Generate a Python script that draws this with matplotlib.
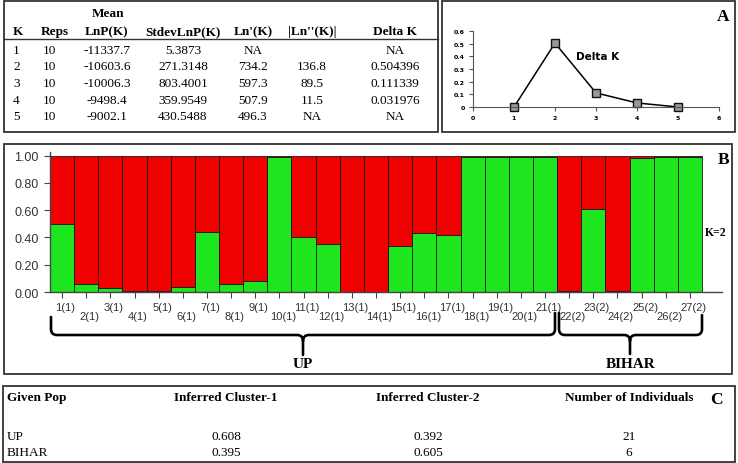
import matplotlib
matplotlib.use('Agg')
import matplotlib.pyplot as plt
from matplotlib.path import Path
from matplotlib.patches import PathPatch, Rectangle
from matplotlib.transforms import ScaledTranslation

W, H = 738, 464

# panel A - table of Evanno values
k_vals = ['1', '2', '3', '4', '5']
reps = ['10', '10', '10', '10', '10']
mean_lnp = ['-11337.7', '-10603.6', '-10006.3', '-9498.4', '-9002.1']
stdev_lnp = ['5.3873', '271.3148', '803.4001', '359.9549', '430.5488']
ln1_k = ['NA', '734.2', '597.3', '507.9', '496.3']
ln2_k = ['', '136.8', '89.5', '11.5', 'NA']
delta_k = ['NA', '0.504396', '0.111339', '0.031976', 'NA']

# panel B - membership of each individual (green = cluster 2)
ind_labels = ['1(1)', '2(1)', '3(1)', '4(1)', '5(1)', '6(1)', '7(1)', '8(1)', '9(1)',
              '10(1)', '11(1)', '12(1)', '13(1)', '14(1)', '15(1)', '16(1)', '17(1)',
              '18(1)', '19(1)', '20(1)', '21(1)', '22(2)', '23(2)', '24(2)', '25(2)',
              '26(2)', '27(2)']
green_q = [0.50, 0.06, 0.03, 0.005, 0.005, 0.04, 0.44, 0.06, 0.08, 0.99, 0.40, 0.35,
           0.003, 0.003, 0.34, 0.43, 0.42, 0.99, 0.99, 0.99, 0.99, 0.01, 0.61, 0.01,
           0.98, 0.99, 0.99]

# panel C
given_pop = ['UP', 'BIHAR']
cluster1 = ['0.608', '0.395']
cluster2 = ['0.392', '0.605']
n_ind = ['21', '6']

SERIF = 'Liberation Serif'
SANS = 'Liberation Sans'


def box(x0, y0, x1, y1):
    return [x0 / W, 1 - y1 / H, (x1 - x0) / W, (y1 - y0) / H]


fig = plt.figure(figsize=(W / 100, H / 100), dpi=100)
ov = fig.add_axes([0, 0, 1, 1])
ov.set_xlim(0, W)
ov.set_ylim(H, 0)
ov.axis('off')
ov.set_zorder(10)

# frames
for (x0, y0, x1, y1) in [(4, 2, 438, 133), (442, 2, 735, 133), (4, 145, 732, 375), (3, 387, 735, 463)]:
    ov.add_patch(Rectangle((x0, y0), x1 - x0, y1 - y0, fill=False, ec='#333333', lw=1.3))

# ---- table A
hdr = dict(fontfamily=SERIF, fontweight='bold', fontsize=9.5, va='center')
cell = dict(fontfamily=SERIF, fontsize=9.5, va='center')
ov.text(108, 14, 'Mean', ha='center', **hdr)
ov.text(13, 32, 'K', ha='left', **hdr)
ov.text(41, 32, 'Reps', ha='left', **hdr)
col_x = [107, 183, 253, 312, 395]
for cx, t in zip(col_x, ['LnP(K)', 'StdevLnP(K)', "Ln'(K)", "|Ln''(K)|", 'Delta K']):
    ov.text(cx, 32, t, ha='center', **hdr)
ov.plot([4, 438], [40, 40], color='#333333', lw=1)
row_y = [51, 67.5, 84, 100.5, 117]
for i, ry in enumerate(row_y):
    ov.text(13, ry, k_vals[i], ha='left', **cell)
    ov.text(43, ry, reps[i], ha='left', **cell)
    for cx, col in zip(col_x, [mean_lnp, stdev_lnp, ln1_k, ln2_k, delta_k]):
        ov.text(cx, ry, col[i], ha='center', **cell)

# ---- delta K plot
axd = fig.add_axes(box(473, 32, 719, 108))
axd.patch.set_visible(False)
dk = [float(v) if v != 'NA' else 0 for v in delta_k]
axd.plot([int(k) for k in k_vals], dk, color='black', lw=1.1, marker='s', ms=5.5,
         mfc='#999999', mec='#111111', mew=1, clip_on=False)
axd.set_xlim(0, 6)
axd.set_ylim(0, 0.6)
axd.set_xticks(range(7))
axd.set_yticks([0, 0.1, 0.2, 0.3, 0.4, 0.5, 0.6])
axd.set_yticklabels(['0', '0.1', '0.2', '0.3', '0.4', '0.5', '0.6'])
for s in ['top', 'right']:
    axd.spines[s].set_visible(False)
for s in ['left', 'bottom']:
    axd.spines[s].set_color('#555555')
axd.tick_params(length=3, width=0.8, color='#555555', pad=3)
for lbl in axd.get_xticklabels() + axd.get_yticklabels():
    lbl.set_fontfamily('DejaVu Sans')
    lbl.set_fontweight('bold')
    lbl.set_fontsize(4.5)
axd.text(2.5, 0.4, 'Delta K', fontfamily='DejaVu Sans', fontweight='bold', fontsize=7.5,
         va='center', ha='left')
ov.text(723, 17, 'A', fontfamily=SERIF, fontweight='bold', fontsize=12.5, ha='center', va='center')

# ---- structure bar plot
bw = (702 - 50) / 27.0
axb = fig.add_axes(box(50, 153, 722, 293))
axb.patch.set_visible(False)
n = len(green_q)
red_q = [1 - g for g in green_q]
xs = list(range(n))
axb.bar(xs, green_q, width=1.0, color='#1ee61e', edgecolor='#1a1a1a', lw=0.6, align='center')
axb.bar(xs, red_q, bottom=green_q, width=1.0, color='#f00000', edgecolor='#1a1a1a', lw=0.6,
        align='center')
axb.set_xlim(-0.5, -0.5 + (722 - 50) / bw)
axb.set_ylim(0, (293 - 153) / (293 - 156.7))
axb.set_yticks([0, 0.2, 0.4, 0.6, 0.8, 1.0])
axb.set_yticklabels(['0.00', '0.20', '0.40', '0.60', '0.80', '1.00'], fontfamily=SANS,
                    fontsize=9, color='#333333')
axb.set_xticks(xs)
axb.set_xticklabels([l if i % 2 == 0 else '\n' + l for i, l in enumerate(ind_labels)],
                    fontfamily=SANS, fontsize=8, color='#333333', linespacing=0.95)
for s in ['top', 'right']:
    axb.spines[s].set_visible(False)
for s in ['left', 'bottom']:
    axb.spines[s].set_color('#444444')
    axb.spines[s].set_linewidth(1)
axb.tick_params(axis='y', length=4, width=0.8, color='#444444', pad=4)
axb.tick_params(axis='x', length=4, width=0.8, color='#444444', pad=3)
shift = ScaledTranslation(0.035, 0, fig.dpi_scale_trans)
for lbl in axb.get_xticklabels():
    lbl.set_transform(lbl.get_transform() + shift)
ov.text(724, 160, 'B', fontfamily=SERIF, fontweight='bold', fontsize=12.5, ha='center', va='center')
ov.text(716, 233, 'K=2', fontfamily=SERIF, fontweight='bold', fontsize=8.5, ha='center', va='center')


def brace(x0, x1, ytop0, ytop1, ybar, ytip, xm):
    r = 6
    verts = [(x0, ytop0), (x0, ybar - r), (x0, ybar), (x0 + r, ybar),
             (xm - r, ybar), (xm, ybar), (xm, ybar + r), (xm, ytip),
             (xm, ybar + r), (xm, ybar), (xm + r, ybar),
             (x1 - r, ybar), (x1, ybar), (x1, ybar - r), (x1, ytop1)]
    codes = [Path.MOVETO, Path.LINETO, Path.CURVE3, Path.CURVE3,
             Path.LINETO, Path.CURVE3, Path.CURVE3, Path.LINETO,
             Path.MOVETO, Path.CURVE3, Path.CURVE3,
             Path.LINETO, Path.CURVE3, Path.CURVE3, Path.LINETO]
    ov.add_patch(PathPatch(Path(verts, codes), fill=False, lw=1.9, ec='black',
                           capstyle='round', joinstyle='round'))


brace(51, 555, 318, 314, 336, 356, 303)
brace(559, 702, 314, 316, 336, 355, 630)
ov.text(303, 365, 'UP', fontfamily=SERIF, fontweight='bold', fontsize=11, ha='center', va='center')
ov.text(631, 365, 'BIHAR', fontfamily=SERIF, fontweight='bold', fontsize=11, ha='center', va='center')

# ---- table C
ov.text(7, 398, 'Given Pop', ha='left', **hdr)
c_x = [226, 428, 629]
for cx, t in zip(c_x, ['Inferred Cluster-1', 'Inferred Cluster-2', 'Number of Individuals']):
    ov.text(cx, 398, t, ha='center', **hdr)
ov.text(716, 400, 'C', fontfamily=SERIF, fontweight='bold', fontsize=12.5, ha='center', va='center')
for i, ry in enumerate([437, 453]):
    ov.text(7, ry, given_pop[i], ha='left', **cell)
    for cx, col in zip(c_x, [cluster1, cluster2, n_ind]):
        ov.text(cx, ry, col[i], ha='center', **cell)

fig.savefig('out.png', dpi=100)
